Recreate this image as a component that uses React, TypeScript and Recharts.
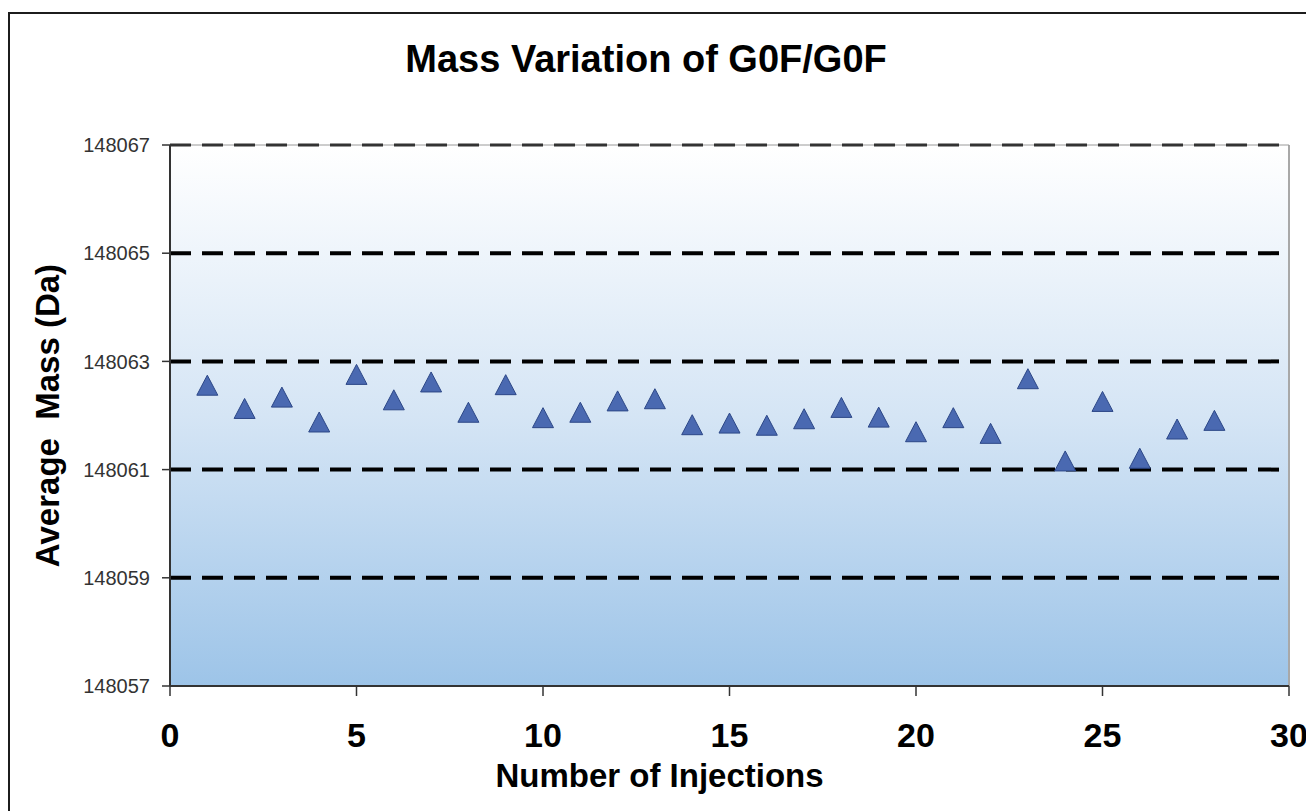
import React from "react";
import {
  ScatterChart,
  Scatter,
  XAxis,
  YAxis,
  CartesianGrid,
  ReferenceLine,
} from "recharts";

// injection number (x) and averaged mass in Da (y)
const injections = [
  1, 2, 3, 4, 5, 6, 7, 8, 9, 10, 11, 12, 13, 14, 15, 16, 17, 18, 19, 20, 21,
  22, 23, 24, 25, 26, 27, 28,
];
const avgMass = [
  148062.56, 148062.13, 148062.34, 148061.88, 148062.76, 148062.29, 148062.62,
  148062.06, 148062.57, 148061.96, 148062.06, 148062.27, 148062.31, 148061.83,
  148061.86, 148061.82, 148061.94, 148062.15, 148061.97, 148061.7, 148061.96,
  148061.67, 148062.68, 148061.16, 148062.26, 148061.21, 148061.75, 148061.91,
];
const xTicks = [0, 5, 10, 15, 20, 25, 30];
const yTicks = [148057, 148059, 148061, 148063, 148065, 148067];

const FONT = "'Liberation Sans', Arial, Helvetica, sans-serif";

function Triangle(props: any) {
  const { cx, cy } = props;
  if (cx == null || cy == null) return null;
  const pts = `${cx},${cy - 10} ${cx - 10.5},${cy + 10} ${cx + 10.5},${cy + 10}`;
  return <polygon points={pts} fill="#4a69b1" stroke="#2c4787" strokeWidth={1} />;
}

export default function App() {
  const data = injections.map((x, i) => ({ x, y: avgMass[i] }));
  const innerTicks = yTicks.slice(1, -1);
  const top = yTicks[yTicks.length - 1];

  return (
    <div
      style={{
        position: "fixed",
        left: 0,
        top: 0,
        width: 1306,
        height: 811,
        overflow: "hidden",
        background: "#fff",
        fontFamily: FONT,
      }}
    >
      <div
        style={{
          position: "absolute",
          left: 8,
          top: 12,
          width: 1400,
          height: 900,
          border: "2px solid #1c1c1c",
          boxSizing: "border-box",
        }}
      />
      <div
        style={{
          position: "absolute",
          left: 0,
          top: 40,
          width: 1292,
          textAlign: "center",
          fontSize: 38,
          lineHeight: "38px",
          fontWeight: "bold",
          color: "#000",
        }}
      >
        Mass Variation of G0F/G0F
      </div>
      <div style={{ position: "absolute", left: 0, top: 0 }}>
        <ScatterChart
          width={1306}
          height={811}
          margin={{ top: 145, right: 17, bottom: 0, left: 0 }}
        >
          <defs>
            <linearGradient id="plotBg" x1="0" y1="0" x2="0" y2="1">
              <stop offset="0%" stopColor="#ffffff" />
              <stop offset="50%" stopColor="#d5e5f5" />
              <stop offset="100%" stopColor="#9dc4e8" />
            </linearGradient>
          </defs>
          <CartesianGrid horizontal={false} vertical={false} fill="url(#plotBg)" />
          <XAxis
            type="number"
            dataKey="x"
            domain={[0, 30]}
            ticks={xTicks}
            height={125}
            axisLine={{ stroke: "#333", strokeWidth: 2 }}
            tickLine={{ stroke: "#333", strokeWidth: 1.5 }}
            tickSize={10}
            tickMargin={27}
            tick={{ fontSize: 34, fontWeight: "bold", fill: "#000", fontFamily: FONT }}
            label={{
              value: "Number of Injections",
              position: "insideBottom",
              offset: 24,
              dx: -70,
              style: { fontSize: 33, fontWeight: "bold", fill: "#000", fontFamily: FONT },
            }}
          />
          <YAxis
            type="number"
            dataKey="y"
            domain={[148057, 148067]}
            ticks={yTicks}
            width={170}
            axisLine={{ stroke: "#333", strokeWidth: 2 }}
            tickLine={{ stroke: "#333", strokeWidth: 1.5 }}
            tickSize={8}
            tickMargin={12}
            tick={{ fontSize: 20, fill: "#333", fontFamily: FONT }}
            label={{
              value: "Average\u00a0\u00a0Mass (Da)",
              angle: -90,
              position: "insideLeft",
              offset: 47,
              style: {
                fontSize: 33,
                fontWeight: "bold",
                fill: "#000",
                textAnchor: "middle",
                fontFamily: FONT,
              },
            }}
          />
          <ReferenceLine x={30} stroke="#a8a8a8" strokeWidth={2} />
          <ReferenceLine y={top} stroke="#9a9a9a" strokeWidth={1} />
          <ReferenceLine
            y={top}
            stroke="#333"
            strokeWidth={3}
            strokeDasharray="21 11"
          />
          {innerTicks.map((v) => (
            <ReferenceLine
              key={v}
              y={v}
              stroke="#000"
              strokeWidth={4}
              strokeDasharray="21 11"
            />
          ))}
          <Scatter data={data} shape={Triangle} isAnimationActive={false} />
        </ScatterChart>
      </div>
    </div>
  );
}
